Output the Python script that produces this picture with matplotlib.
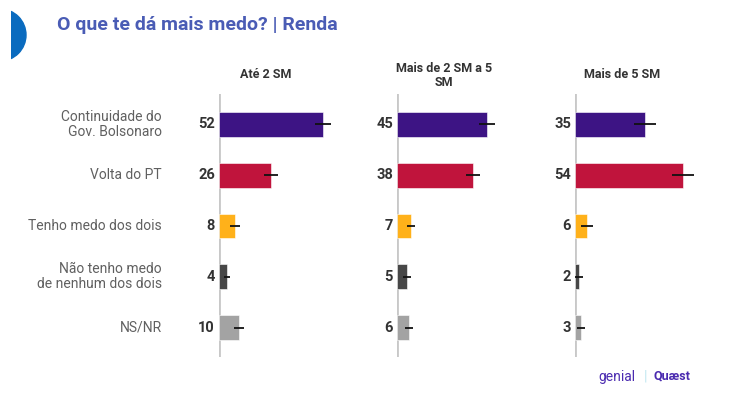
import numpy as np
import matplotlib.pyplot as plt
from matplotlib.patches import Ellipse, Rectangle

plt.rcParams['font.family'] = ['Roboto', 'DejaVu Sans']

"""
data
"""
categories = ['Continuidade do\nGov. Bolsonaro', 'Volta do PT', 'Tenho medo dos dois',
              'Não tenho medo\nde nenhum dos dois', 'NS/NR']
groups = ['Até 2 SM', 'Mais de 2 SM a 5\nSM', 'Mais de 5 SM']
values = [[52, 26, 8, 4, 10],
          [45, 38, 7, 5, 6],
          [35, 54, 6, 2, 3]]
errors = [[3.8, 3.5, 2.3, 1.6, 2.5],
          [3.8, 3.5, 2.2, 1.8, 2.0],
          [5.5, 5.5, 2.8, 1.8, 2.0]]
colors = ['#3d1484', '#c0143c', '#ffb11a', '#474747', '#a3a3a3']

W, H = 734, 401
fig = plt.figure(figsize=(W/100, H/100), dpi=100)

# blue half circle on the left (cut at the left edge)
deco = fig.add_axes([0, 0, 1, 1], zorder=-1)
deco.set_xlim(0, W)
deco.set_ylim(H, 0)
deco.axis('off')
circ = Ellipse((0, 35), 52, 52, color='#0a6bbf')
deco.add_patch(circ)
clip = Rectangle((11, 0), 40, 100, transform=deco.transData, visible=False)
deco.add_patch(clip)
circ.set_clip_path(clip)

fig.text(57/W, 1-25/H, 'O que te dá mais medo? | Renda', color='#4a5cb5',
         fontsize=14, fontweight='bold', va='center', ha='left')

lefts = [219, 397, 575]
y = np.arange(len(categories))
for i, g in enumerate(groups):
    ax = fig.add_axes([lefts[i]/W, 1-357/H, 140/W, 263/H])
    ax.barh(y, values[i], height=0.49, color=colors, edgecolor='white', linewidth=0.4)
    for j in range(len(y)):
        ax.plot([values[i][j]-errors[i][j], values[i][j]+errors[i][j]], [y[j], y[j]],
                color='#111111', lw=1.3, solid_capstyle='butt')
        ax.text(-2, y[j], str(values[i][j]), ha='right', va='center',
                fontsize=10.5, fontweight='bold', color='#333333')
    ax.set_xlim(0, 70)
    ax.set_ylim(4.58, -0.60)
    ax.axis('off')
    ax.axvline(0, color='#c8c8c8', lw=2, zorder=0)
    fig.text((lefts[i]+47)/W, 1-75/H, g, ha='center', va='center', fontsize=9,
             fontweight='bold', color='#333333', linespacing=1.1)
    if i == 0:
        for j, c in enumerate(categories):
            ax.text(-28.5, y[j], c, ha='right', va='center', fontsize=10,
                    color='#606060', linespacing=1.1)

# logos
fig.text(598/W, 1-377/H, 'genial', color='#4b2bb0', fontsize=10, ha='left', va='center')
fig.text(645/W, 1-377/H, '|', color='#bfe6f0', fontsize=10, ha='center', va='center')
fig.text(653/W, 1-376/H, 'Quæst', color='#4b2bb0', fontsize=9, fontweight='bold',
         ha='left', va='center')

fig.savefig('out.png', dpi=100)
